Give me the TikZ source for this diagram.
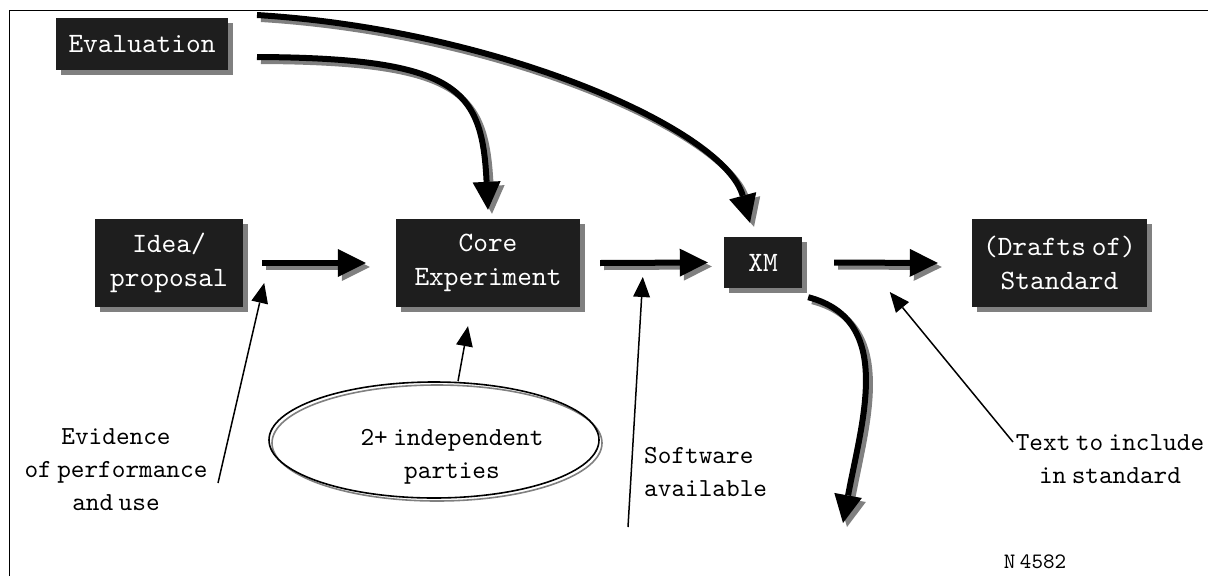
\documentclass[tikz,border=0pt]{standalone}
\usepackage{fontspec}
\setmonofont{lmmono10-regular}[Extension=.otf, WordSpace=0.4]
\usetikzlibrary{arrows.meta,shapes.geometric,shadows}
\definecolor{boxfill}{HTML}{1E1E1E}
\definecolor{shade}{HTML}{808080}
\begin{document}
\begin{tikzpicture}[x=1pt,y=-1pt,
  font=\ttfamily\fontsize{28}{34}\selectfont,
  box/.style={fill=boxfill,text=white,align=center,inner sep=0pt,
    general shadow={fill=shade,shadow xshift=5pt,shadow yshift=-5pt}},
  fat/.style={line width=6pt,-{Triangle[length=28pt,width=28pt,line width=0pt]}},
  fatsh/.style={fat,draw=shade,transform canvas={xshift=4pt,yshift=-4pt}},
  pointer/.style={line width=1.5pt,-{Triangle[length=20pt,width=17pt,line width=0pt]}},
  label/.style={align=center,inner sep=0pt,font=\ttfamily\fontsize{26}{33}\selectfont}]
\useasboundingbox (0,0) rectangle (1208,576);
% frame
\draw[line width=1pt] (9,576) -- (9,10) -- (1208,10);
% boxes
\node[box,minimum width=172pt,minimum height=52pt] (eval) at (142,44) {Evaluation};
\node[box,minimum width=148pt,minimum height=88pt] (idea) at (169,263) {Idea/\\proposal};
\node[box,minimum width=184pt,minimum height=88pt] (core) at (488,263) {Core\\Experiment};
\node[box,minimum width=78pt,minimum height=51pt] (xm) at (763,262.5) {XM};
\node[box,minimum width=175pt,minimum height=88pt] (drafts) at (1059.5,263) {(Drafts of)\\Standard};
% ellipse
\node[ellipse,draw=shade,line width=1.6pt,minimum width=330pt,minimum height=116pt,inner sep=0pt] (ellsh) at (437,443) {};
\node[ellipse,draw=black,line width=1.6pt,minimum width=330pt,minimum height=116pt,inner sep=0pt] (ell) at (434,440) {};
\node[label] (parties) at (452,457) {2+ independent\\parties};
% labels
\node[label] (evid) at (116,470) {Evidence\\of performance\\and use};
\node[label,align=left,anchor=west] (soft) at (644,472) {Software\\available};
\node[label] (txt) at (1110,459) {Text to include\\in standard};
\node[label,font=\ttfamily\fontsize{22}{24}\selectfont] (num) at (1035,562) {N 4582};
% horizontal thick arrows
\foreach \a/\b/\sa/\sb in {idea/core/19/30, core/xm/20/16, xm/drafts/32/34} {
  \draw[fatsh] ([xshift=\sa pt]\a.east) -- ([xshift=-\sb pt]\b.west);
  \draw[fat] ([xshift=\sa pt]\a.east) -- ([xshift=-\sb pt]\b.west);
}
% curved thick arrows
\coordinate (e1) at (257,15);
\coordinate (e2) at (257,57);
\coordinate (down) at (843,523);
\draw[fatsh] (e1) .. controls (500,30) and (725,130) .. ([xshift=-13pt,yshift=14pt]xm.north);
\draw[fat] (e1) .. controls (500,30) and (725,130) .. ([xshift=-13pt,yshift=14pt]xm.north);
\draw[fatsh] (e2) .. controls (460,58) and (482,90) .. ([yshift=9pt]core.north);
\draw[fat] (e2) .. controls (460,58) and (482,90) .. ([yshift=9pt]core.north);
\draw[fatsh] ([xshift=6pt,yshift=-9pt]xm.south east) .. controls (895,320) and (862,420) .. (down);
\draw[fat] ([xshift=6pt,yshift=-9pt]xm.south east) .. controls (895,320) and (862,420) .. (down);
% thin pointers
\coordinate (evs) at (218,483);
\coordinate (sws) at (628,527);
\coordinate (tts) at (1013,442);
\draw[pointer] (evs) -- ([xshift=21pt,yshift=-20pt]idea.east);
\draw[pointer] ([xshift=24pt]ell.north) -- ([xshift=-20pt,yshift=-19pt]core.south);
\draw[pointer] (sws) -- ([xshift=-81pt,yshift=-14.5pt]xm.west);
\draw[pointer] (tts) -- ([xshift=-82pt,yshift=-29pt]drafts.west);
\end{tikzpicture}
\end{document}
